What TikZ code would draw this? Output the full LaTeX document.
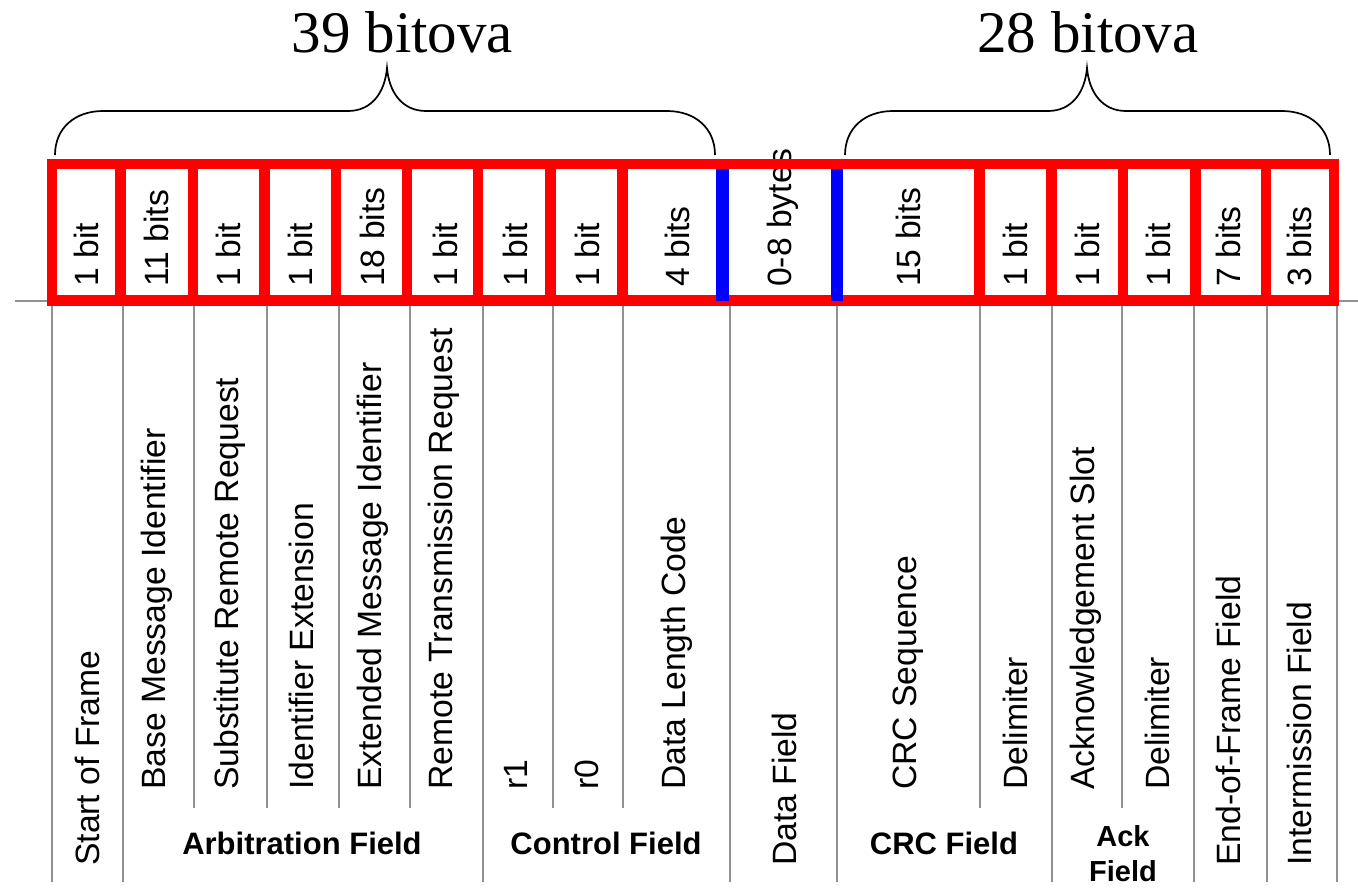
\documentclass[tikz,border=0pt]{standalone}
\usepackage{fontspec}
\setmainfont{Liberation Sans}
\newfontfamily\titlefont{Liberation Serif}
\definecolor{canred}{RGB}{255,0,0}
\definecolor{canblue}{RGB}{0,0,255}
\definecolor{sepgray}{RGB}{145,145,145}
\begin{document}
\begin{tikzpicture}[x=1pt,y=-1pt,
  rot/.style={rotate=90, anchor=west, inner sep=0pt, font=\fontsize{33.7}{40}\selectfont},
  grp/.style={font=\bfseries\fontsize{31}{37}\selectfont, inner sep=0pt, anchor=base},
  ackgrp/.style={font=\bfseries\fontsize{29}{35}\selectfont, inner sep=0pt, anchor=base},
  titletext/.style={font=\titlefont\fontsize{59}{70}\selectfont, inner sep=0pt, anchor=base},
  sepline/.style={draw=sepgray, line width=2.7pt},
  framered/.style={draw=canred, line width=10.5pt},
  bluebar/.style={draw=canblue, line width=12.5pt},
  bracepath/.style={draw=black, line width=1.7pt}]
\fill[white] (0,0) rectangle (1358,889);
\useasboundingbox (0,0) rectangle (1358,889);

% gray separator lines
\foreach \x in {52,123,483,730,837,1052,1194,1267,1337}
  \draw[sepline] (\x,300) -- (\x,882);
\foreach \x in {194,267,339,410,553,623,980,1122}
  \draw[sepline] (\x,300) -- (\x,808);
\draw[sepline] (15,301) -- (52,301);
\draw[sepline] (1334,301) -- (1358,301);

% cell texts
\node[rot] (c1) at (86.5,287) {1 bit};
\node[rot] (c2) at (156,287) {11 bits};
\node[rot] (c3) at (228,287) {1 bit};
\node[rot] (c4) at (300,287) {1 bit};
\node[rot] (c5) at (372,287) {18 bits};
\node[rot] (c6) at (445,287) {1 bit};
\node[rot] (c7) at (515,287) {1 bit};
\node[rot] (c8) at (587,287) {1 bit};
\node[rot] (c9) at (677,287) {4 bits};
\node[rot] (c10) at (783,287) {0-8 bytes};
\node[rot] (c11) at (908,287) {15 bits};
\node[rot] (c12) at (1015,287) {1 bit};
\node[rot] (c13) at (1087,287) {1 bit};
\node[rot] (c14) at (1158,287) {1 bit};
\node[rot] (c15) at (1228,287) {7 bits};
\node[rot] (c16) at (1299,287) {3 bits};

% red frame
\draw[framered] (52,164) rectangle (1334,300.5);
\foreach \x in {120.5,193,264.5,336,407,478,550.5,622.5,979.5,1051.5,1123,1195.5,1266}
  \draw[framered] (\x,164) -- (\x,300.5);
\draw[bluebar] (722.5,169) -- (722.5,301);
\draw[bluebar] (837,169) -- (837,301);

% field names
\node[rot] (l1) at (87,866) {Start of Frame};
\node[rot] (l2) at (157,790) {Base Message Identifier};
\node[rot] (l3) at (230,790) {Substitute Remote Request};
\node[rot] (l4) at (301,790) {Identifier Extension};
\node[rot] (l5) at (373,790) {Extended Message Identifier};
\node[rot] (l6) at (444,790) {Remote Transmission Request};
\node[rot] (l7) at (516,790) {r1};
\node[rot] (l8) at (587,790) {r0};
\node[rot] (l9) at (677,790) {Data Length Code};
\node[rot] (l10) at (784,866) {Data Field};
\node[rot] (l11) at (908,790) {CRC Sequence};
\node[rot] (l12) at (1015,790) {Delimiter};
\node[rot] (l13) at (1086,790) {Acknowledgement Slot};
\node[rot] (l14) at (1157,790) {Delimiter};
\node[rot] (l15) at (1228,866) {End-of-Frame Field};
\node[rot] (l16) at (1299,866) {Intermission Field};

% group labels
\node[grp] (g1) at (302,854) {Arbitration Field};
\node[grp] (g2) at (606,854) {Control Field};
\node[grp] (g3) at (944,854) {CRC Field};
\node[ackgrp] (g4a) at (1123,846) {Ack};
\node[ackgrp] (g4b) at (1123,881) {Field};

% braces and titles
\draw[bracepath] (55,155) .. controls (55,128) and (75,111) .. (103,111)
  -- (348,111) .. controls (372,111) and (385,92) .. (387,68)
  .. controls (389,92) and (402,111) .. (426,111)
  -- (667,111) .. controls (695,111) and (715,128) .. (715,155);
\draw[bracepath] (845,155) .. controls (845,128) and (865,111) .. (893,111)
  -- (1048,111) .. controls (1072,111) and (1085,92) .. (1087,68)
  .. controls (1089,92) and (1102,111) .. (1126,111)
  -- (1282,111) .. controls (1310,111) and (1330,128) .. (1330,155);
\node[titletext] (t1) at (402.5,52) {39 bitova};
\node[titletext] (t2) at (1088,52) {28 bitova};
\end{tikzpicture}
\end{document}
